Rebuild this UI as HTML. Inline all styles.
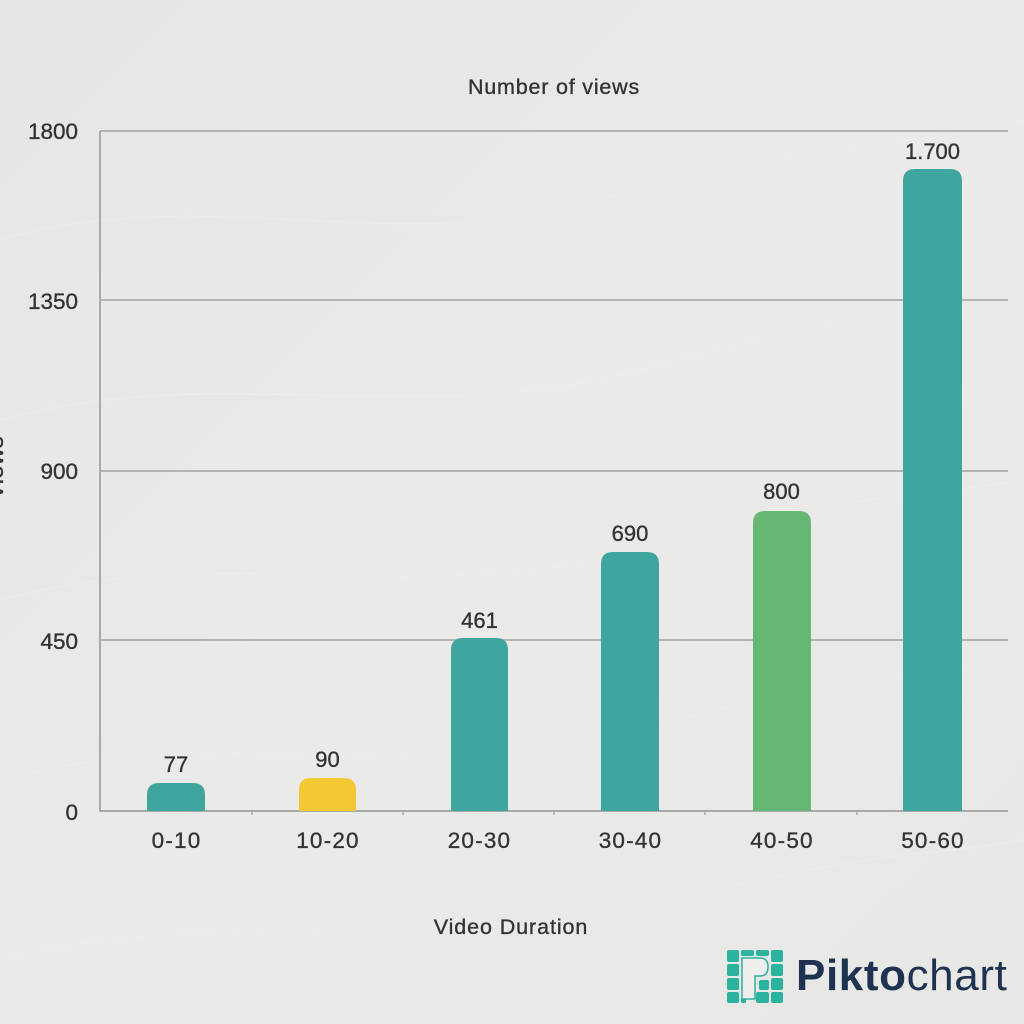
<!DOCTYPE html>
<html>
<head>
<meta charset="utf-8">
<style>
html,body{margin:0;padding:0;width:1024px;height:1024px;overflow:hidden;background:#e9e9e7;}
svg{display:block;}
text{font-family:"Liberation Sans",sans-serif;fill:#333333;stroke:#333333;stroke-width:0.35px;}
</style>
</head>
<body>
<svg width="1024" height="1024" viewBox="0 0 1024 1024" xmlns="http://www.w3.org/2000/svg">
  <defs>
    <linearGradient id="bg" x1="0" y1="0" x2="1" y2="1">
      <stop offset="0" stop-color="#e6e6e4"/>
      <stop offset="0.5" stop-color="#eaeae8"/>
      <stop offset="1" stop-color="#e8e8e6"/>
    </linearGradient>
  </defs>
  <rect x="0" y="0" width="1024" height="1024" fill="url(#bg)"/>
  <!-- subtle wavy texture -->
  <g fill="none" stroke="#f0f0ee" stroke-width="1.2" opacity="0.5">
    <path d="M0 240 C200 180 400 260 600 200 S900 150 1024 120"/>
    <path d="M0 420 C220 360 420 430 640 370 S900 320 1024 300"/>
    <path d="M0 600 C220 540 420 610 640 550 S900 500 1024 480"/>
    <path d="M0 780 C220 720 420 790 640 730 S900 680 1024 660"/>
    <path d="M0 960 C220 900 420 970 640 910 S900 860 1024 840"/>
  </g>

  <!-- title -->
  <text x="554" y="94" font-size="21.5" text-anchor="middle" letter-spacing="0.8">Number of views</text>

  <!-- gridlines -->
  <g stroke="#b3b3b1" stroke-width="2">
    <line x1="100" y1="131" x2="1008" y2="131"/>
    <line x1="100" y1="300" x2="1008" y2="300"/>
    <line x1="100" y1="471" x2="1008" y2="471"/>
    <line x1="100" y1="640" x2="1008" y2="640"/>
  </g>
  <!-- axes -->
  <line x1="100" y1="131" x2="100" y2="812" stroke="#aaaaaa" stroke-width="2"/>
  <line x1="99" y1="811" x2="1008" y2="811" stroke="#aaaaaa" stroke-width="2"/>
  <g stroke="#aaaaaa" stroke-width="1.5">
    <line x1="252" y1="811" x2="252" y2="815"/>
    <line x1="403" y1="811" x2="403" y2="815"/>
    <line x1="554" y1="811" x2="554" y2="815"/>
    <line x1="705" y1="811" x2="705" y2="815"/>
    <line x1="857" y1="811" x2="857" y2="815"/>
  </g>

  <!-- y tick labels -->
  <g font-size="22.5" text-anchor="end">
    <text x="78" y="139">1800</text>
    <text x="78" y="309">1350</text>
    <text x="78" y="479">900</text>
    <text x="78" y="649">450</text>
    <text x="78" y="820">0</text>
  </g>

  <!-- cut-off rotated axis label -->
  <text transform="translate(3,468) rotate(-90)" font-size="24" text-anchor="middle">Views</text>

  <!-- bars -->
  <path d="M147 811 V795 Q147 783 159 783 H193 Q205 783 205 795 V811 Z" fill="#3ea69e"/>
  <path d="M299 811 V790 Q299 778 311 778 H344 Q356 778 356 790 V811 Z" fill="#f4c834"/>
  <path d="M451 811 V650 Q451 638 463 638 H496 Q508 638 508 650 V811 Z" fill="#3ea69e"/>
  <path d="M601 811 V564 Q601 552 613 552 H647 Q659 552 659 564 V811 Z" fill="#3ea69e"/>
  <path d="M753 811 V523 Q753 511 765 511 H799 Q811 511 811 523 V811 Z" fill="#66b773"/>
  <path d="M903 811 V181 Q903 169 915 169 H950 Q962 169 962 181 V811 Z" fill="#3ea69e"/>

  <!-- value labels -->
  <g font-size="22" text-anchor="middle">
    <text x="176" y="772">77</text>
    <text x="327.5" y="767">90</text>
    <text x="479.5" y="628">461</text>
    <text x="630" y="541">690</text>
    <text x="781.5" y="499">800</text>
    <text x="932.5" y="159">1.700</text>
  </g>

  <!-- x labels -->
  <g font-size="22.5" text-anchor="middle" letter-spacing="1.2">
    <text x="176.5" y="848">0-10</text>
    <text x="328" y="848">10-20</text>
    <text x="479.5" y="848">20-30</text>
    <text x="630.5" y="848">30-40</text>
    <text x="782" y="848">40-50</text>
    <text x="933" y="848">50-60</text>
  </g>

  <text x="511" y="934" font-size="21.5" text-anchor="middle" letter-spacing="0.9">Video Duration</text>

  <!-- Piktochart logo -->
  <g fill="#2bb3a0">
    <rect x="727" y="950" width="12" height="12" rx="2"/>
    <rect x="741" y="950" width="13" height="6" rx="2"/>
    <rect x="756" y="950" width="13" height="6" rx="2"/>
    <rect x="771" y="950" width="12" height="12" rx="2"/>
    <rect x="727" y="964" width="12" height="12" rx="2"/>
    <rect x="771" y="964" width="12" height="12" rx="2"/>
    <rect x="727" y="978" width="12" height="12" rx="2"/>
    <rect x="759" y="980" width="10" height="10" rx="2"/>
    <rect x="771" y="978" width="12" height="12" rx="2"/>
    <rect x="727" y="992" width="12" height="11" rx="2"/>
    <rect x="741" y="997" width="5" height="6" rx="1.5"/>
    <rect x="756" y="992" width="13" height="11" rx="2"/>
    <rect x="771" y="992" width="12" height="11" rx="2"/>
  </g>
  <path d="M742 958 H760 Q768 958 768 967 Q768 976 760 976 H755 V999 H742 Z" fill="#eeeeec" stroke="#2bb3a0" stroke-width="1.5"/>
  <text x="796" y="990" font-size="44" letter-spacing="0.6" style="fill:#1e3352;stroke:none"><tspan font-weight="bold">Pikto</tspan><tspan>chart</tspan></text>
</svg>
</body>
</html>
